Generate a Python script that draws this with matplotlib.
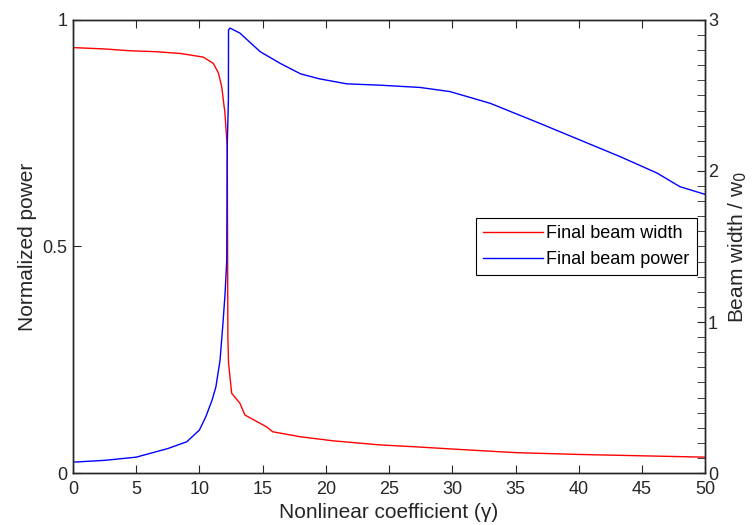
import matplotlib
matplotlib.use('Agg')
matplotlib.rcParams.update({'font.family': ['Liberation Sans', 'DejaVu Sans']})
matplotlib.rcParams.update({'font.size': 13})
matplotlib.rcParams.update({'axes.linewidth': 1.0})
import matplotlib.pyplot as plt
from matplotlib.ticker import MultipleLocator

# values (both curves drawn against the left axis)
width_x = [0, 2.5, 4.5, 6.5, 8.5, 10.3, 11.1, 11.5, 11.76, 11.95, 12.0, 12.2, 12.25,
           12.3, 12.55, 13.2, 13.6, 15.3, 15.8, 18, 20.6, 24.3, 27, 30, 35, 40, 45, 50]
width_y = [0.939, 0.936, 0.932, 0.93, 0.926, 0.918, 0.904, 0.883, 0.853, 0.809, 0.80,
           0.72, 0.30, 0.243, 0.176, 0.154, 0.128, 0.102, 0.091, 0.080, 0.071, 0.062,
           0.058, 0.053, 0.045, 0.041, 0.038, 0.035]

power_x = [0, 2.5, 5, 7.5, 9, 10, 10.5, 11, 11.3, 11.63, 11.84, 12.03, 12.16, 12.2,
           12.29, 12.3, 12.42, 13.2, 14.8, 16.4, 18, 19.5, 21.65, 24.3, 27.45, 29.8,
           33, 36.9, 40.1, 43.3, 46.2, 48, 50]
power_y = [0.024, 0.028, 0.035, 0.054, 0.069, 0.095, 0.124, 0.161, 0.19, 0.249, 0.323,
           0.397, 0.47, 0.724, 0.823, 0.978, 0.982, 0.971, 0.930, 0.904, 0.881, 0.870,
           0.859, 0.856, 0.851, 0.842, 0.816, 0.772, 0.735, 0.698, 0.662, 0.632, 0.615]

edge = '#262626'

fig = plt.figure(figsize=(7.55, 5.25), dpi=100)
ax = fig.add_axes([0.0967, 0.099, 0.8373, 0.863])
ax.plot(width_x, width_y, color='#ff0000', lw=1.0, label='Final beam width')
ax.plot(power_x, power_y, color='#0000ff', lw=1.0, label='Final beam power')
ax.set_xlim(0, 50)
ax.set_ylim(0, 1)
ax.set_xticks(range(0, 51, 5))
ax.set_yticks([0, 0.5, 1])
ax.set_yticklabels(['0', '0.5', '1'])
ax.tick_params(direction='in', length=6, top=True, right=False, colors=edge,
               labelcolor=edge)
ax.tick_params(axis='x', pad=6)
ax.tick_params(axis='y', pad=4)
ax.set_xlabel('Nonlinear coefficient (γ)', color=edge, fontsize=15, labelpad=3)
ax.set_ylabel('Normalized power', color=edge, fontsize=15, labelpad=4)
for s in ax.spines.values():
    s.set_color(edge)

ax2 = ax.twinx()
ax2.set_ylim(0, 3)
ax2.yaxis.set_major_locator(MultipleLocator(1))
ax2.yaxis.set_minor_locator(MultipleLocator(0.1))
ax2.tick_params(which='both', direction='in', length=6, colors=edge,
                labelcolor=edge, pad=2)
ax2.set_ylabel('Beam width / w$_0$', color=edge, fontsize=15, labelpad=6)
for s in ax2.spines.values():
    s.set_color(edge)

leg = ax.legend(loc='upper right', bbox_to_anchor=(0.987, 0.563), fancybox=False,
                framealpha=1, edgecolor='black', handlelength=3.3,
                handletextpad=0.2, borderaxespad=0, borderpad=0.4,
                labelspacing=0.5)
leg.get_frame().set_linewidth(0.8)

fig.savefig('out.png', dpi=100)
plt.close()
